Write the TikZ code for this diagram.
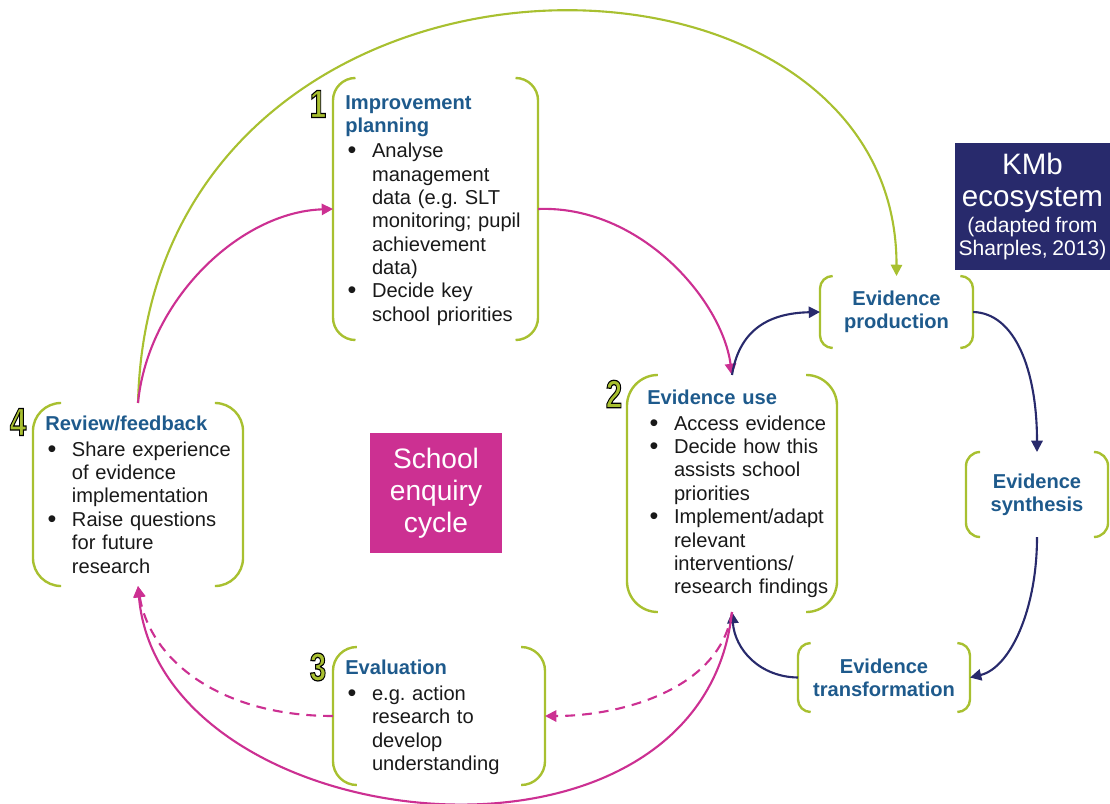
\documentclass[tikz,border=0pt]{standalone}
\usepackage{fontspec}
\setmainfont{Liberation Sans}
\newfontfamily\chiffrefont{Liberation Sans Bold}[FakeBold=3]
\usepackage{graphicx}
\usepackage{enumitem}
\usetikzlibrary{arrows.meta}

\definecolor{vert}{RGB}{168,192,48}
\definecolor{rose}{RGB}{204,48,146}
\definecolor{marine}{RGB}{40,42,108}
\definecolor{bleu}{RGB}{30,90,140}
\definecolor{encre}{RGB}{25,25,25}

\setlist[itemize]{label=\raisebox{-0.5pt}{\scalebox{1.25}{\textbullet}},leftmargin=19pt,labelsep=11pt,itemsep=0pt,parsep=0pt,topsep=1.5pt,partopsep=0pt}
\frenchspacing
\newcommand{\corps}{\fontsize{14.3}{16.6}\selectfont}
\newcommand{\titre}[1]{{\bfseries\color{bleu}#1}\par}
%chiffre vert cerne de noir (remplissage vert, trait noir)
\newcommand{\badge}[1]{\special{pdf:bcolor [0.66 0.75 0.19] [0 0 0]}\scalebox{0.75}[1]{#1}\special{pdf:ecolor}}

\begin{document}
\begin{tikzpicture}[x=0.025cm, y=-0.025cm,
	zone/.style={inner sep=0pt, outer sep=0pt},
	accolade/.style={draw=vert, line width=1.7pt},
	titrebox/.style={zone, align=center, font=\corps\bfseries, text=bleu},
	liste/.style={anchor=north west, inner sep=0pt, text width=5.4cm, align=left, font=\corps, text=encre},
	chiffre/.style={inner sep=0pt, font=\fontsize{28}{28}\selectfont\chiffrefont},
	fleche/.style={line width=1.5pt, -{Triangle[length=8pt,width=8pt]}},
	pointille/.style={fleche, dash pattern=on 7pt off 5pt}]
	\useasboundingbox (0,0) rectangle (1110,803);

	%zones des cadres (x,y en pixels, y vers le bas)
	\node (box plan) at(435.5, 209) [zone, minimum width=5.125cm, minimum height=6.55cm] {};
	\node (box use) at(732, 493.5) [zone, minimum width=5.25cm, minimum height=5.925cm] {};
	\node (box review) at(138, 494.5) [zone, minimum width=5.25cm, minimum height=4.575cm] {};
	\node (box eval) at(439, 716) [zone, minimum width=5.3cm, minimum height=3.45cm] {};
	\node (box prod) at(896.5, 312) [titrebox, minimum width=3.825cm, minimum height=1.8cm] {Evidence\\production};
	\node (box synth) at(1037, 494.5) [titrebox, minimum width=3.55cm, minimum height=2.125cm] {Evidence\\synthesis};
	\node (box trans) at(884, 677.5) [titrebox, minimum width=4.3cm, minimum height=1.725cm] {Evidence\\transformation};

	%accolades vertes : nom du cadre / rayon
	\foreach \b/\r in {box plan/16pt, box use/22pt, box review/20pt, box eval/17pt, box prod/9pt, box synth/10pt, box trans/9pt}{
		\draw[accolade, rounded corners=\r] ([xshift=\r]\b.north west) -- (\b.north west) -- (\b.south west) -- ([xshift=\r]\b.south west);
		\draw[accolade, rounded corners=\r] ([xshift=-\r]\b.north east) -- (\b.north east) -- (\b.south east) -- ([xshift=-\r]\b.south east);
	}

	%textes des quatre etapes
	\node (text plan) at(345, 95) [liste] {\titre{Improvement\\planning}%
		\begin{itemize}
		\item Analyse\\management\\data (e.g. SLT\\monitoring; pupil\\achievement\\data)
		\item Decide key\\school priorities
		\end{itemize}};
	\node (text use) at(647, 390) [liste] {\titre{Evidence use}%
		\begin{itemize}
		\item Access evidence
		\item Decide how this\\assists school\\priorities
		\item Implement/adapt\\relevant\\interventions/\\research findings
		\end{itemize}};
	\node (text review) at(45, 416) [liste] {\titre{Review/feedback}%
		\begin{itemize}
		\item Share experience\\of evidence\\implementation
		\item Raise questions\\for future\\research
		\end{itemize}};
	\node (text eval) at(345, 660) [liste] {\titre{Evaluation}%
		\begin{itemize}
		\item e.g. action\\research to\\develop\\understanding
		\end{itemize}};

	%numeros
	\node (num 1) at(318, 104) [chiffre] {\badge{1}};
	\node (num 2) at(614, 394) [chiffre] {\badge{2}};
	\node (num 3) at(318, 667) [chiffre] {\badge{3}};
	\node (num 4) at(18, 422) [chiffre] {\badge{4}};

	%blocs pleins
	\node (cycle) at(436, 493) [zone, fill=rose, text=white, minimum width=3.3cm, minimum height=3cm, align=center, font=\fontsize{20}{22.8}\selectfont] {School\\enquiry\\cycle};
	\node (kmb) at(1032.5, 206.5) [zone, fill=marine, text=white, text width=3.875cm, minimum height=3.175cm, align=center] {\fontsize{21}{23}\selectfont KMb\\ecosystem\par\vspace{2pt}\fontsize{15}{16.4}\selectfont (adapted from\\Sharples, 2013)\par};

	%fleches
	\draw[fleche, vert] (box review.north) .. controls (150,-95) and (897,-95) .. (box prod.north);
	\draw[fleche, rose] (box review.north) .. controls (148,300) and (240,212) .. (box plan.west);
	\draw[fleche, rose] (box plan.east) .. controls (640,205) and (722,300) .. (box use.north);
	\draw[fleche, marine] (box use.north) .. controls (740,325) and (775,313) .. (box prod.west);
	\draw[fleche, marine] (box prod.east) .. controls (1015,313) and (1037,370) .. (box synth.north);
	\draw[fleche, marine] (box synth.south) .. controls (1037,610) and (1010,668) .. (box trans.east);
	\draw[fleche, marine] (box trans.west) .. controls (760,677) and (735,650) .. (box use.south);
	\draw[fleche, rose] (box use.south) .. controls (700,900) and (160,840) .. (box review.south);
	\draw[pointille, rose] (box use.south) .. controls (720,690) and (620,716) .. (box eval.east);
	\draw[pointille, rose] (box eval.west) .. controls (220,716) and (150,660) .. (box review.south);
\end{tikzpicture}
\end{document}
